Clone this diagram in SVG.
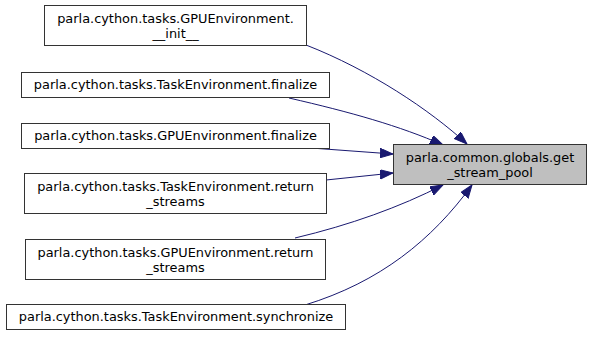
<svg xmlns="http://www.w3.org/2000/svg" width="591" height="337" viewBox="0 0 591 337">
  <style>
    .node rect { fill: #ffffff; stroke: #333333; stroke-width: 1; }
    .node.focus rect { fill: #bfbfbf; }
    .node text { font-family: "DejaVu Sans", sans-serif; font-size: 12.9px; fill: #000000; text-anchor: middle; }
    .edge { fill: none; stroke: #191970; stroke-width: 1; marker-end: url(#arrow); }
  </style>
  <defs>
    <marker id="arrow" markerUnits="userSpaceOnUse" markerWidth="14" markerHeight="10" refX="13" refY="4.7" orient="auto">
      <path d="M0,0 L13,4.7 L0,9.4 Z" fill="#191970" stroke="#191970" stroke-width="1"/>
    </marker>
  </defs>
  <rect width="591" height="337" fill="#ffffff"/>

  <g id="edges">
    <path class="edge" d="M306,45 C370,70 430,110 467,144"/>
    <path class="edge" d="M289,98 C350,112 400,126 443,145"/>
    <path class="edge" d="M311,148 L393,154"/>
    <path class="edge" d="M326,180 L393,173"/>
    <path class="edge" d="M295,238 C350,225 400,207 443,185"/>
    <path class="edge" d="M305,305 C380,282 432,240 472,185"/>
  </g>

  <g id="get_stream_pool" class="node focus">
    <rect x="393.5" y="144.5" width="193" height="40"/>
    <text x="490" y="161.5">parla.common.globals.get</text>
    <text x="490" y="176.5">_stream_pool</text>
  </g>

  <g id="gpu_init" class="node">
    <rect x="44.5" y="5.5" width="262" height="40"/>
    <text x="175.5" y="22.5">parla.cython.tasks.GPUEnvironment.</text>
    <text x="175.5" y="37.5">__init__</text>
  </g>

  <g id="task_finalize" class="node">
    <rect x="21.5" y="72.5" width="308" height="25"/>
    <text x="175.5" y="89">parla.cython.tasks.TaskEnvironment.finalize</text>
  </g>

  <g id="gpu_finalize" class="node">
    <rect x="21.5" y="123.5" width="308" height="25"/>
    <text x="175.5" y="140">parla.cython.tasks.GPUEnvironment.finalize</text>
  </g>

  <g id="task_return_streams" class="node">
    <rect x="24.5" y="173.5" width="302" height="40"/>
    <text x="175.5" y="190.5">parla.cython.tasks.TaskEnvironment.return</text>
    <text x="175.5" y="205.5">_streams</text>
  </g>

  <g id="gpu_return_streams" class="node">
    <rect x="25.5" y="239.5" width="300" height="40"/>
    <text x="175.5" y="256.5">parla.cython.tasks.GPUEnvironment.return</text>
    <text x="175.5" y="271.5">_streams</text>
  </g>

  <g id="task_synchronize" class="node">
    <rect x="6.5" y="304.5" width="339" height="25"/>
    <text x="176" y="321">parla.cython.tasks.TaskEnvironment.synchronize</text>
  </g>
</svg>
